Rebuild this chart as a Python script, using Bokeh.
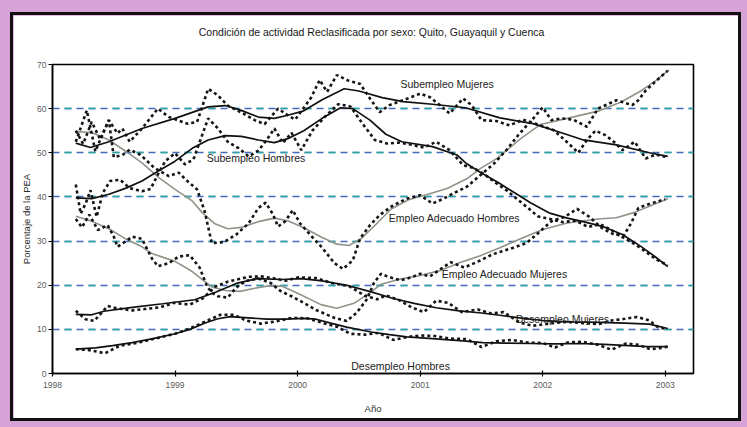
from bokeh.plotting import figure
from bokeh.layouts import column
from bokeh.models import Grid, FixedTicker, ColumnDataSource, Range1d, Title
from bokeh.core.properties import value
from bokeh.embed import file_html
from bokeh.resources import INLINE

# ---------------- data ----------------
x_ticks = [1998, 1999, 2000, 2001, 2002, 2003]
y_ticks = [0, 10, 20, 30, 40, 50, 60, 70]

# Subempleo Mujeres
sm_trend_x = [1998.19, 1998.31, 1998.46, 1998.73, 1999.0, 1999.27, 1999.41, 1999.54, 1999.68, 1999.81, 1999.92,
              2000.05, 2000.2, 2000.38, 2000.5, 2000.69, 2000.86, 2001.1, 2001.37, 2001.65, 2001.92, 2002.19,
              2002.32, 2002.6, 2002.87, 2003.02]
sm_trend_y = [52.2, 51.2, 52.5, 55.5, 57.8, 60.4, 60.7, 59.6, 58.1, 57.8, 58.5,
              59.5, 62.0, 64.5, 64.0, 62.5, 61.6, 61.0, 60.2, 57.9, 56.6, 54.2,
              53.0, 51.8, 50.0, 49.2]
sm_dot_x = [1998.19, 1998.28, 1998.35, 1998.42, 1998.46, 1998.53, 1998.57, 1998.63, 1998.73, 1998.86, 1998.95,
            1999.1, 1999.18, 1999.27, 1999.35, 1999.43, 1999.55, 1999.65, 1999.73, 1999.84, 1999.92, 1999.98,
            2000.11, 2000.18, 2000.24, 2000.32, 2000.41, 2000.51, 2000.59, 2000.67, 2000.75, 2000.86, 2001.0,
            2001.08, 2001.16, 2001.24, 2001.35, 2001.42, 2001.5, 2001.62, 2001.73, 2001.84, 2001.95, 2002.09,
            2002.18, 2002.29, 2002.36, 2002.43, 2002.51, 2002.58, 2002.65, 2002.75, 2002.84, 2002.92, 2003.0]
sm_dot_y = [52.5, 59.6, 50.3, 55.0, 57.4, 54.4, 55.5, 52.5, 55.5, 60.0, 58.1,
            56.6, 57.0, 64.5, 63.0, 60.7, 59.0, 57.4, 56.5, 60.0, 58.5, 57.5,
            62.5, 66.5, 63.8, 67.6, 66.4, 65.6, 62.3, 59.2, 60.8, 61.9, 63.4,
            62.6, 60.8, 58.9, 62.3, 60.8, 57.4, 57.2, 56.2, 57.5, 56.5, 55.1,
            52.9, 50.0, 52.9, 55.0, 54.0, 52.5, 50.6, 52.5, 48.7, 49.6, 49.1]

# Subempleo Hombres
sh_trend_x = [1998.19, 1998.32, 1998.46, 1998.6, 1998.73, 1998.86, 1999.0, 1999.14, 1999.27, 1999.41, 1999.54,
              1999.68, 1999.81, 1999.92, 2000.05, 2000.2, 2000.35, 2000.45, 2000.59, 2000.72, 2000.85, 2001.1,
              2001.3, 2001.38, 2001.49, 2001.64, 2001.79, 2001.9, 2002.05, 2002.2, 2002.33, 2002.5, 2002.65,
              2002.8, 2002.92, 2003.02]
sh_trend_y = [39.8, 39.6, 40.6, 42.0, 43.6, 45.8, 48.1, 51.0, 52.9, 53.9, 53.7,
              52.9, 52.3, 53.2, 55.0, 57.8, 60.2, 60.0, 57.4, 54.2, 52.5, 51.4,
              49.5, 47.5, 45.6, 43.2, 40.6, 38.7, 36.4, 35.2, 34.4, 33.2, 31.5,
              28.8, 26.4, 24.2]
sh_dot_x = [1998.19, 1998.23, 1998.27, 1998.31, 1998.36, 1998.41, 1998.47, 1998.55, 1998.63, 1998.73, 1998.8,
            1998.86, 1998.92, 1999.0, 1999.08, 1999.15, 1999.27, 1999.35, 1999.43, 1999.52, 1999.6, 1999.68,
            1999.75, 1999.81, 1999.88, 1999.95, 2000.03, 2000.12, 2000.22, 2000.33, 2000.43, 2000.53, 2000.63,
            2000.73, 2000.83, 2000.93, 2001.03, 2001.13, 2001.24, 2001.35, 2001.44, 2001.52, 2001.6, 2001.7,
            2001.8, 2001.88, 2001.96, 2002.06, 2002.16, 2002.27, 2002.37, 2002.47, 2002.56, 2002.65, 2002.74,
            2002.84, 2002.93, 2003.02]
sh_dot_y = [42.8, 36.2, 38.5, 41.5, 35.5, 40.9, 43.6, 43.9, 42.0, 41.3, 41.8,
            45.1, 48.1, 49.9, 47.4, 48.5, 57.8, 55.5, 52.5, 51.0, 49.2, 50.5,
            53.0, 55.5, 52.2, 54.5, 50.6, 55.0, 58.1, 61.0, 60.5, 56.6, 52.9,
            52.1, 52.3, 51.8, 51.2, 52.5, 50.6, 47.2, 46.5, 45.2, 43.5, 41.6,
            39.3, 37.5, 35.6, 35.0, 34.3, 34.6, 33.2, 33.8, 32.5, 30.9, 29.5,
            27.6, 25.8, 24.5]

# Empleo Adecuado Hombres
eah_trend_x = [1998.19, 1998.32, 1998.46, 1998.6, 1998.73, 1998.87, 1999.0, 1999.14, 1999.22, 1999.32, 1999.43,
               1999.54, 1999.68, 1999.81, 1999.92, 2000.05, 2000.2, 2000.32, 2000.42, 2000.52, 2000.64, 2000.76,
               2000.9, 2001.05, 2001.22, 2001.38, 2001.49, 2001.63, 2001.82, 2001.98, 2002.2, 2002.46, 2002.64,
               2002.8, 2002.92, 2003.03]
eah_trend_y = [54.8, 54.6, 52.9, 50.3, 47.7, 44.3, 41.7, 39.1, 36.5, 34.0, 32.8,
               33.1, 34.4, 35.2, 34.6, 33.0, 30.8, 29.3, 29.0, 30.6, 33.8, 37.2,
               39.3, 40.5, 41.9, 44.1, 46.4, 48.8, 53.2, 56.4, 57.8, 59.5, 61.5,
               64.0, 66.3, 68.8]
eah_dot_x = [1998.19, 1998.25, 1998.32, 1998.39, 1998.46, 1998.5, 1998.57, 1998.63, 1998.72, 1998.83, 1998.95,
             1999.03, 1999.1, 1999.18, 1999.24, 1999.3, 1999.4, 1999.5, 1999.6, 1999.68, 1999.74, 1999.8,
             1999.84, 1999.9, 1999.96, 2000.02, 2000.1, 2000.2, 2000.3, 2000.37, 2000.45, 2000.51, 2000.59,
             2000.67, 2000.78, 2000.89, 2001.0, 2001.1, 2001.19, 2001.27, 2001.38, 2001.49, 2001.6, 2001.7,
             2001.8, 2001.92, 2002.0, 2002.07, 2002.15, 2002.25, 2002.36, 2002.45, 2002.6, 2002.73, 2002.78,
             2002.84, 2002.93, 2003.02]
eah_dot_y = [55.0, 52.0, 57.0, 53.0, 57.4, 49.0, 49.5, 50.7, 49.5, 46.6, 44.7,
             45.5, 43.6, 41.7, 36.9, 29.5, 29.8, 31.5, 34.0, 37.5, 38.7, 36.0,
             33.3, 34.5, 37.0, 34.0, 31.5, 28.5, 25.0, 23.7, 25.6, 30.6, 33.6,
             35.9, 38.1, 39.6, 40.4, 38.5, 39.6, 40.8, 42.3, 44.9, 47.5, 50.5,
             54.0, 57.7, 60.3, 57.4, 57.8, 57.5, 55.9, 60.0, 61.9, 60.8, 61.9,
             64.1, 66.4, 68.6]

# Empleo Adecuado Mujeres
eam_trend_x = [1998.19, 1998.32, 1998.46, 1998.59, 1998.73, 1998.81, 1999.0, 1999.14, 1999.22, 1999.3, 1999.41,
               1999.53, 1999.65, 1999.75, 1999.87, 2000.03, 2000.19, 2000.32, 2000.46, 2000.6, 2000.68, 2000.84,
               2001.0, 2001.16, 2001.32, 2001.49, 2001.65, 2001.81, 2002.0, 2002.2, 2002.45, 2002.6, 2002.75,
               2002.88, 2003.02]
eam_trend_y = [35.6, 34.5, 32.8, 30.6, 28.7, 27.2, 25.4, 23.1, 21.3, 19.6, 18.8,
               18.6, 19.3, 19.8, 19.8, 17.8, 15.6, 14.8, 15.9, 18.5, 20.2, 21.4,
               22.2, 23.3, 25.1, 26.7, 28.5, 30.4, 32.6, 34.1, 35.0, 35.3, 36.5,
               38.0, 39.6]
eam_dot_x = [1998.19, 1998.24, 1998.3, 1998.37, 1998.45, 1998.5, 1998.53, 1998.6, 1998.65, 1998.73, 1998.81,
             1998.86, 1998.95, 1999.03, 1999.12, 1999.2, 1999.26, 1999.3, 1999.35, 1999.43, 1999.5, 1999.58,
             1999.68, 1999.78, 1999.86, 1999.95, 2000.05, 2000.15, 2000.3, 2000.4, 2000.48, 2000.57, 2000.62,
             2000.68, 2000.74, 2000.84, 2000.93, 2001.0, 2001.08, 2001.19, 2001.25, 2001.36, 2001.49, 2001.59,
             2001.76, 2001.87, 2001.95, 2002.07, 2002.18, 2002.28, 2002.38, 2002.48, 2002.58, 2002.66, 2002.72,
             2002.78, 2002.88, 2003.0]
eam_dot_y = [35.0, 33.1, 36.0, 32.5, 33.6, 31.0, 28.7, 30.0, 31.0, 30.5, 26.1,
             24.3, 25.0, 26.5, 26.8, 24.0, 19.8, 18.3, 17.5, 17.2, 19.5, 21.0,
             21.5, 20.5, 18.7, 17.5, 16.0, 14.4, 12.6, 11.9, 13.7, 17.0, 20.4,
             22.6, 21.9, 21.1, 21.8, 22.6, 22.0, 24.1, 25.2, 24.0, 25.6, 27.0,
             28.5, 29.6, 31.5, 34.5, 35.5, 37.3, 35.5, 33.0, 31.5, 31.2, 34.0,
             37.5, 38.5, 39.5]

# Desempleo Mujeres
dm_trend_x = [1998.19, 1998.32, 1998.42, 1998.65, 1998.9, 1999.16, 1999.33, 1999.5, 1999.67, 1999.87, 2000.03,
              2000.2, 2000.4, 2000.6, 2000.78, 2000.95, 2001.13, 2001.32, 2001.5, 2001.65, 2001.81, 2002.0,
              2002.22, 2002.46, 2002.67, 2002.87, 2003.02]
dm_trend_y = [13.4, 13.3, 14.1, 15.0, 15.8, 16.7, 18.4, 20.4, 21.5, 21.3, 21.5,
              21.0, 20.0, 18.5, 17.0, 15.9, 14.9, 14.2, 13.7, 13.2, 12.6, 12.0,
              11.7, 11.6, 11.4, 11.2, 10.2]
dm_dot_x = [1998.19, 1998.27, 1998.34, 1998.45, 1998.52, 1998.65, 1998.75, 1998.88, 1998.99, 1999.12, 1999.23,
            1999.33, 1999.43, 1999.6, 1999.7, 1999.8, 1999.9, 2000.01, 2000.15, 2000.28, 2000.42, 2000.55,
            2000.65, 2000.72, 2000.83, 2000.93, 2001.03, 2001.13, 2001.23, 2001.34, 2001.47, 2001.58, 2001.68,
            2001.81, 2001.92, 2002.05, 2002.19, 2002.33, 2002.46, 2002.56, 2002.67, 2002.77, 2002.87, 2002.94,
            2003.01]
dm_dot_y = [14.2, 12.3, 11.9, 15.3, 14.8, 14.3, 14.6, 15.0, 16.0, 15.6, 17.1,
            19.7, 20.8, 21.9, 22.0, 21.6, 21.0, 21.8, 21.6, 20.5, 19.8, 17.6,
            16.8, 17.7, 16.6, 15.0, 13.9, 16.5, 16.0, 13.9, 14.5, 13.6, 13.9,
            11.6, 10.8, 11.3, 11.7, 11.4, 11.2, 12.0, 12.4, 12.8, 12.0, 10.5,
            10.1]

# Desempleo Hombres
dh_trend_x = [1998.19, 1998.35, 1998.49, 1998.65, 1998.82, 1999.0, 1999.12, 1999.25, 1999.35, 1999.45, 1999.6,
              1999.75, 1999.9, 2000.05, 2000.15, 2000.27, 2000.4, 2000.6, 2000.75, 2000.89, 2001.1, 2001.35,
              2001.51, 2001.7, 2001.9, 2002.1, 2002.3, 2002.5, 2002.7, 2002.85, 2003.02]
dh_trend_y = [5.5, 5.8, 6.3, 7.0, 7.9, 9.0, 10.0, 11.5, 12.4, 12.9, 12.6,
              12.3, 12.3, 12.5, 12.3, 11.4, 10.5, 9.4, 8.8, 8.3, 7.9, 7.4,
              7.0, 6.9, 6.8, 6.7, 6.8, 6.6, 6.3, 6.1, 6.1]
dh_dot_x = [1998.19, 1998.3, 1998.43, 1998.55, 1998.7, 1998.85, 1999.0, 1999.12, 1999.25, 1999.37, 1999.48,
            1999.58, 1999.7, 1999.82, 1999.95, 2000.08, 2000.2, 2000.32, 2000.43, 2000.55, 2000.66, 2000.78,
            2000.9, 2001.0, 2001.12, 2001.25, 2001.38, 2001.5, 2001.62, 2001.75, 2001.88, 2002.0, 2002.1,
            2002.2, 2002.32, 2002.45, 2002.56, 2002.68, 2002.78, 2002.88, 2002.97, 2003.02]
dh_dot_y = [5.5, 5.3, 4.6, 6.3, 7.0, 8.0, 9.0, 10.2, 11.8, 13.3, 13.3,
            12.0, 11.3, 11.8, 12.6, 12.5, 11.5, 10.6, 9.0, 8.8, 9.2, 7.6,
            8.3, 8.6, 8.5, 7.9, 7.8, 6.0, 7.3, 7.6, 7.0, 6.9, 5.9,
            7.0, 7.2, 6.5, 5.4, 6.8, 6.5, 5.5, 5.8, 6.1]

label_text = ["Subempleo Mujeres", "Subempleo Hombres", "Empleo Adecuado Hombres",
              "Empleo Adecuado Mujeres", "Desempleo Mujeres", "Desempleo Hombres"]
label_x = [2001.22, 1999.66, 2001.28, 2001.69, 2002.16, 2000.84]
label_y = [65.6, 48.8, 35.2, 22.5, 12.3, 1.6]

title_text = "Condición de actividad  Reclasificada por sexo: Quito, Guayaquil y Cuenca"
x_label = "Año"
y_label = "Porcentaje de la PEA"

# ---------------- figure ----------------
FONT = "Liberation Sans"
purple = "#d7a3d6"
fig = figure(width=731, height=409, output_backend="svg", toolbar_location=None,
             x_range=Range1d(1998, 2003.23), y_range=Range1d(0, 70),
             min_border_left=39, min_border_right=51, min_border_top=49, min_border_bottom=51)
fig.border_fill_color = "white"
fig.background_fill_color = "white"
fig.outline_line_color = "black"
fig.outline_line_width = 1.6
fig.styles = {"border": "3px solid #111111"}

# spacer panel between the frame and the title (keeps the title high in the margin)
fig.add_layout(Title(text=" ", text_font_size="1px", standoff=21), "above")
fig.title = Title(text=title_text, align="center", text_font=FONT, text_font_size="10.5px",
                  text_font_style="normal", text_color="#151515", standoff=6)

# axes
fig.xaxis.ticker = FixedTicker(ticks=x_ticks)
fig.yaxis.ticker = FixedTicker(ticks=y_ticks)
for ax in (fig.xaxis[0], fig.yaxis[0]):
    ax.axis_line_color = "black"
    ax.axis_line_width = 1.5
    ax.major_tick_line_color = "black"
    ax.major_tick_line_width = 1.2
    ax.minor_tick_line_color = None
    ax.major_label_text_font = FONT
    ax.major_label_text_font_size = "8.5px"
    ax.major_label_text_color = "#5a5a5a"
    ax.axis_label_text_font = FONT
    ax.axis_label_text_font_size = "9.5px"
    ax.axis_label_text_font_style = "normal"
    ax.axis_label_text_color = "#2a2a2a"
fig.xaxis.major_tick_in = 3
fig.xaxis.major_tick_out = 3
fig.xaxis.major_label_standoff = 5
fig.xaxis.axis_label = x_label
fig.xaxis.axis_label_standoff = 12
fig.yaxis.major_tick_in = 0
fig.yaxis.major_tick_out = 4
fig.yaxis.major_label_standoff = 2
fig.yaxis.axis_label = y_label
fig.yaxis.axis_label_standoff = 2

fig.xgrid.grid_line_color = None
fig.ygrid.grid_line_color = "#3f6cc0"
fig.ygrid.grid_line_dash = "7 5"
fig.ygrid.grid_line_width = 1.3
teal_grid = Grid(dimension=1, ticker=FixedTicker(ticks=y_ticks[1:-1]),
                 grid_line_color="#2aa5a0", grid_line_dash="7 17", grid_line_dash_offset=12,
                 grid_line_width=1.3)
fig.add_layout(teal_grid)

# trend lines
gray = "#8f9488"
fig.line(eah_trend_x, eah_trend_y, line_color=gray, line_width=1.6)
fig.line(eam_trend_x, eam_trend_y, line_color=gray, line_width=1.6)
for tx, ty in [(sm_trend_x, sm_trend_y), (sh_trend_x, sh_trend_y),
               (dm_trend_x, dm_trend_y), (dh_trend_x, dh_trend_y)]:
    fig.line(tx, ty, line_color="#111111", line_width=1.7)

# dotted raw series
for dx, dy in [(sm_dot_x, sm_dot_y), (sh_dot_x, sh_dot_y), (eah_dot_x, eah_dot_y),
               (eam_dot_x, eam_dot_y), (dm_dot_x, dm_dot_y), (dh_dot_x, dh_dot_y)]:
    fig.line(dx, dy, line_color="#141414", line_width=2.6, line_dash="3 3")

lbl = ColumnDataSource(dict(x=label_x, y=label_y, text=label_text))
fig.text(x="x", y="y", text="text", source=lbl, text_font=value(FONT),
         text_font_size="10.5px", text_color="#222222", text_align="center", text_baseline="middle")

# purple slide background around the framed chart
p = column(fig, styles={"background-color": purple, "padding": "12px 6px 6px 10px"})

open("out.html", "w").write(file_html(p, INLINE))
